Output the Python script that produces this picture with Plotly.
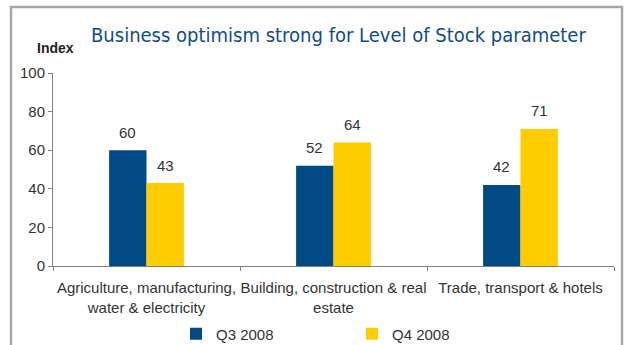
import plotly.graph_objects as go

# Survey index by sector, Q3 vs Q4 2008
categories = [
    "Agriculture, manufacturing,<br>water & electricity",
    "Building, construction & real<br>estate",
    "Trade, transport & hotels",
]
q3_2008 = [60, 52, 42]
q4_2008 = [43, 64, 71]
series_names = ["Q3 2008", "Q4 2008"]
y_ticks = [0, 20, 40, 60, 80, 100]

BLUE = "#014A86"
YELLOW = "#FFCC00"
TEXT = "#333333"
AXIS = "#808080"
FONT = "Liberation Sans, Arial, sans-serif"

W, H = 627, 345
ML, MR, MT, MB = 53, 13, 73, 79
plot_w = W - ML - MR
plot_h = H - MT - MB


def px_x(px):
    return (px - ML) / plot_w


def px_y(py):
    return (H - MB - py) / plot_h


fig = go.Figure()
fig.add_trace(go.Bar(name=series_names[0], x=categories, y=q3_2008,
                     marker=dict(color=BLUE, line=dict(width=0))))
fig.add_trace(go.Bar(name=series_names[1], x=categories, y=q4_2008,
                     marker=dict(color=YELLOW, line=dict(width=0))))

# value labels above each bar
annotations = []
for vals, shift in ((q3_2008, -19), (q4_2008, 19)):
    for cat, v in zip(categories, vals):
        annotations.append(dict(
            x=cat, y=v, xref="x", yref="y", text=str(v), showarrow=False,
            xshift=shift, yshift=18, font=dict(family=FONT, size=15, color=TEXT),
        ))

annotations.append(dict(
    x=px_x(55), y=px_y(48), xref="paper", yref="paper", text="<b>Index</b>",
    showarrow=False, xanchor="center", yanchor="middle",
    font=dict(family=FONT, size=14, color="#222222"),
))
annotations.append(dict(
    x=px_x(338), y=px_y(35), xref="paper", yref="paper",
    text="Business optimism strong for Level of Stock parameter",
    showarrow=False, xanchor="center", yanchor="middle",
    font=dict(family="DejaVu Sans Condensed, Liberation Sans", size=20, color="#0F4C8C"),
))

fig.update_layout(
    width=W, height=H,
    margin=dict(l=ML, r=MR, t=MT, b=MB),
    paper_bgcolor="white", plot_bgcolor="white",
    barmode="group", bargap=0.6, bargroupgap=0,
    showlegend=True,
    legend=dict(
        orientation="h", xref="container", yref="container",
        x=176 / W, y=(H - 334) / H, xanchor="left", yanchor="middle",
        entrywidth=131, entrywidthmode="pixels",
        font=dict(family=FONT, size=15, color=TEXT),
        bgcolor="rgba(0,0,0,0)",
    ),
    annotations=annotations,
    shapes=[dict(
        type="rect", xref="paper", yref="paper",
        x0=px_x(11), x1=px_x(622), y0=px_y(7), y1=px_y(360),
        line=dict(color="#A6A6A6", width=2.5), fillcolor="rgba(0,0,0,0)", layer="below",
    )],
    xaxis=dict(
        showline=True, linecolor=AXIS, linewidth=1, automargin=False, tickangle=0,
        ticks="outside", tickson="boundaries", ticklen=4, tickcolor=AXIS,
        ticklabelstandoff=8,
        tickfont=dict(family=FONT, size=15, color=TEXT),
        showgrid=False, zeroline=False,
    ),
    yaxis=dict(
        range=[0, 100], tickvals=y_ticks, automargin=False,
        showline=True, linecolor=AXIS, linewidth=1,
        ticks="outside", ticklen=4, tickcolor=AXIS,
        tickfont=dict(family=FONT, size=15, color=TEXT),
        showgrid=False, zeroline=False,
    ),
)

fig.write_html("out.html")
